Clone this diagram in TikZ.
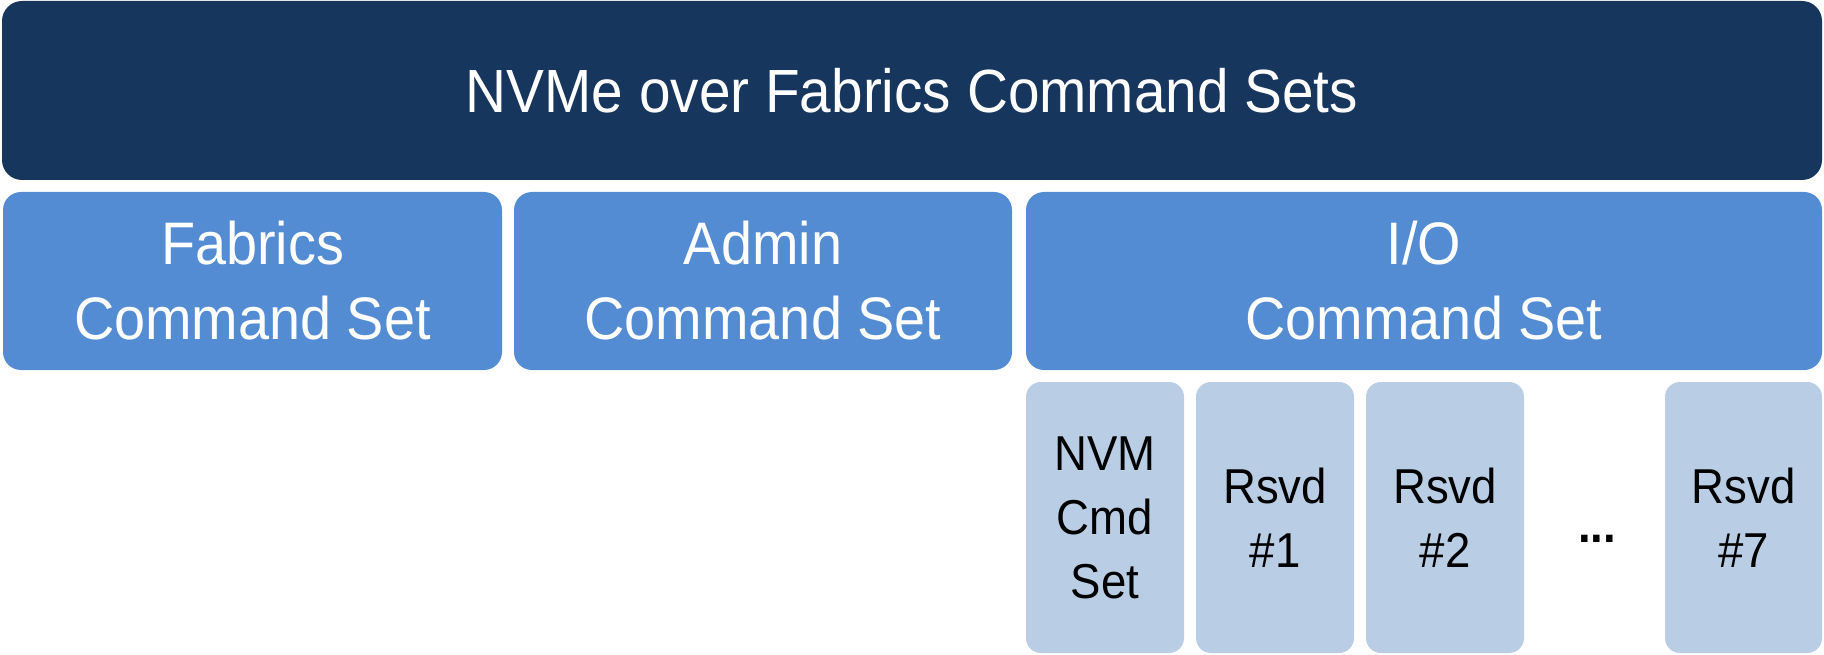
\documentclass[tikz,border=0pt]{standalone}
\usepackage{fontspec}
\newfontfamily\setfont[FakeStretch=0.93]{Liberation Sans}
\definecolor{navy}{HTML}{17365D}
\definecolor{midblue}{HTML}{538CD3}
\definecolor{paleblue}{HTML}{B9CDE5}
\tikzset{
  blockbase/.style={rectangle, inner sep=0pt, align=center},
  navybox/.style={blockbase, fill=navy, rounded corners=20pt, text=white,
    font=\setfont\fontsize{61}{75}\selectfont},
  midbox/.style={blockbase, fill=midblue, rounded corners=18pt, text=white,
    minimum height=178pt, font=\setfont\fontsize{60}{75}\selectfont},
  lightbox/.style={blockbase, fill=paleblue, rounded corners=15pt, text=black,
    minimum height=271pt, minimum width=158pt,
    font=\setfont\fontsize{49}{64}\selectfont},
}
\begin{document}
\begin{tikzpicture}[x=1pt, y=-1pt]
  \useasboundingbox (0,0) rectangle (1824,655);

  % top banner
  \node[navybox, minimum width=1820pt, minimum height=179pt] (top) at (912,90.5)
    {NVMe over Fabrics Command Sets};

  % the three command sets
  \node[midbox, minimum width=499pt] (fabrics) at (252.5,281) {Fabrics\\Command Set};
  \node[midbox, minimum width=498pt] (admin) at (763,281) {Admin\\Command Set};
  \node[midbox, minimum width=796pt] (io) at (1424,281) {I/O\\Command Set};

  % I/O command set slots
  \node[lightbox] (nvm) at (1105,517.5) {NVM\\Cmd\\Set};
  \node[lightbox] (rsvd1) at (1275,517.5) {Rsvd\\\#1};
  \node[lightbox] (rsvd2) at (1445,517.5) {Rsvd\\\#2};
  \node[lightbox, minimum width=157pt] (rsvd7) at (1743.5,517.5) {Rsvd\\\#7};
  \node[anchor=base, inner sep=0pt, font=\setfont\bfseries\fontsize{49}{64}\selectfont]
    (dots) at (1597,542) {...};
\end{tikzpicture}
\end{document}
